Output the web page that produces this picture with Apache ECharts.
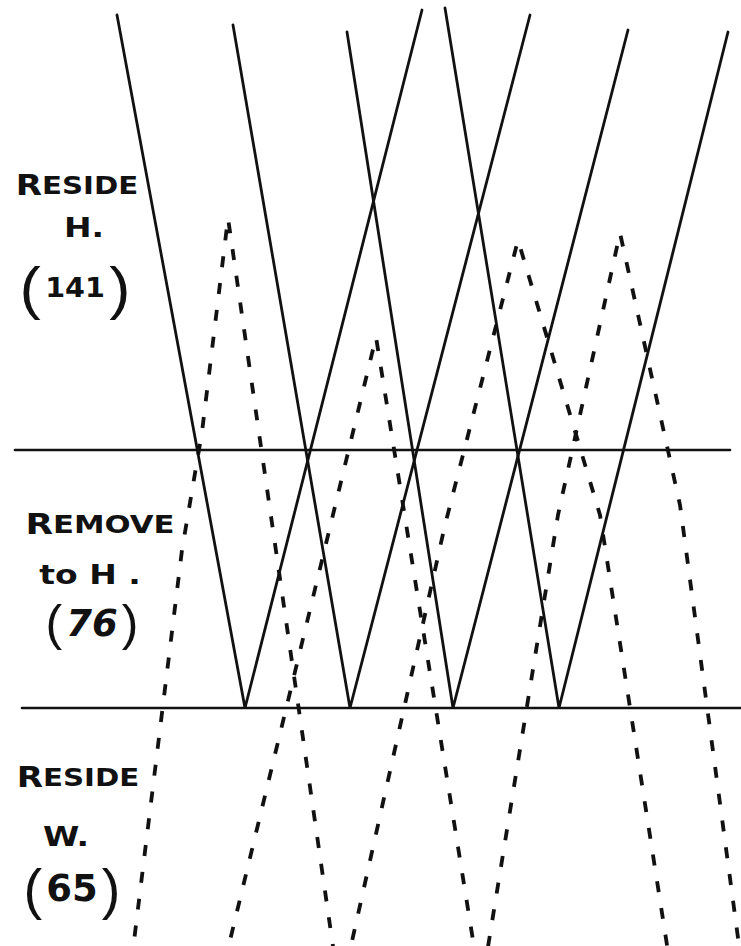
<!DOCTYPE html>
<html>
<head>
<meta charset="utf-8">
<title>Reside / Remove diagram</title>
<script src="https://cdn.jsdelivr.net/npm/echarts/dist/echarts.min.js"></script>
<style>
  html, body { margin: 0; padding: 0; background: #fff; }
  #chart { width: 741px; height: 946px; }
</style>
</head>
<body>
<div id="chart"></div>
<script>
// drawing units follow the sheet: x across 0..741, y down 0..946
const dividerUpper = [[15, 450], [730, 450]];
const dividerLower = [[22, 708], [741, 708]];

// solid V's: top of left arm, bottom on the lower divider, top of right arm
const solidV1 = [[117, 15], [245, 708], [422, 10]];
const solidV2 = [[233, 25], [350, 708], [530, 15]];
const solidV3 = [[347, 32], [453, 708], [628, 30]];
const solidV4 = [[445, 8], [559, 708], [728, 32]];

// dashed zigzags (troughs fall below the sheet and get clipped)
const dashedWave1 = [[128, 990], [182, 550], [202, 432], [228, 218], [340, 995], [445, 525], [518, 240], [600, 515], [674, 990]];
const dashedWave2 = [[218, 990], [376, 337], [481, 990], [558, 515], [620, 233], [680, 505], [745, 990]];

// row labels
const rowWords = ['RESIDE', 'REMOVE', 'RESIDE'];
const rowPlaces = ['H.', 'to H .', 'W.'];
const rowCounts = ['141', '76', '65'];

const ink = '#111';

let myChart = echarts.init(document.getElementById('chart'), null, { renderer: 'svg' });

function solid(data, width) {
	return {
		type: 'line',
		data: data,
		symbol: 'none',
		silent: true,
		lineStyle: { color: ink, width: width, cap: 'round' },
	};
}

function dashed(data) {
	return {
		type: 'line',
		data: data,
		symbol: 'none',
		silent: true,
		lineStyle: { color: ink, width: 3.8, type: [11, 16], cap: 'butt' },
	};
}

function smallCaps(word) {
	return '{a|' + word.charAt(0) + '}{b|' + word.slice(1) + '}';
}

const capsRich = {
	a: { fontFamily: 'DejaVu Sans', fontWeight: 'bold', fontSize: 28, fill: ink },
	b: { fontFamily: 'DejaVu Sans', fontWeight: 'bold', fontSize: 24, fill: ink },
};

function label(text, x, y, rich, extra) {
	return Object.assign({
		type: 'text',
		x: x,
		y: y,
		scaleX: 1.22,
		silent: true,
		style: {
			text: text,
			align: 'center',
			verticalAlign: 'middle',
			rich: rich,
			fill: ink,
		},
	}, extra || {});
}

function countText(size, parenSize, italic) {
	return {
		p: { fontFamily: 'Liberation Sans', fontSize: parenSize, fill: ink },
		n: { fontFamily: 'DejaVu Sans', fontSize: size, fontStyle: italic ? 'italic' : 'normal', fontWeight: 'bold', fill: ink, padding: [0, 4, 0, 4] },
	};
}

const placeRich = {
	a: { fontFamily: 'DejaVu Sans', fontWeight: 'bold', fontSize: 27, fill: ink },
};

var option = {
	animation: false,
	backgroundColor: '#fff',
	grid: { left: 0, right: 0, top: 0, bottom: 0 },
	xAxis: { type: 'value', min: 0, max: 741, show: false },
	yAxis: { type: 'value', min: 0, max: 946, inverse: true, show: false },
	graphic: [
		label(smallCaps(rowWords[0]), 77, 185, capsRich),
		label('{a|' + rowPlaces[0] + '}', 84, 228, placeRich),
		label('{p|(}{n|' + rowCounts[0] + '}{p|)}', 75, 288, countText(26, 58, false), { scaleX: 1.1 }),

		label(smallCaps(rowWords[1]), 100, 524, capsRich, { scaleX: 1.28 }),
		label('{a|' + rowPlaces[1] + '}', 90, 575, placeRich),
		label('{p|(}{n|' + rowCounts[1] + '}{p|)}', 92, 623, countText(37, 50, true), { scaleX: 1 }),

		label(smallCaps(rowWords[2]), 78, 777, capsRich),
		label('{a|' + rowPlaces[2] + '}', 66, 837, placeRich),
		label('{p|(}{n|' + rowCounts[2] + '}{p|)}', 72, 888, countText(37, 56, false), { scaleX: 1 }),
	],
	series: [
		solid(dividerUpper, 2.6),
		solid(dividerLower, 2.6),
		solid(solidV1, 2.8),
		solid(solidV2, 2.8),
		solid(solidV3, 2.8),
		solid(solidV4, 2.8),
		dashed(dashedWave1),
		dashed(dashedWave2),
	],
};

myChart.setOption(option);
</script>
</body>
</html>
